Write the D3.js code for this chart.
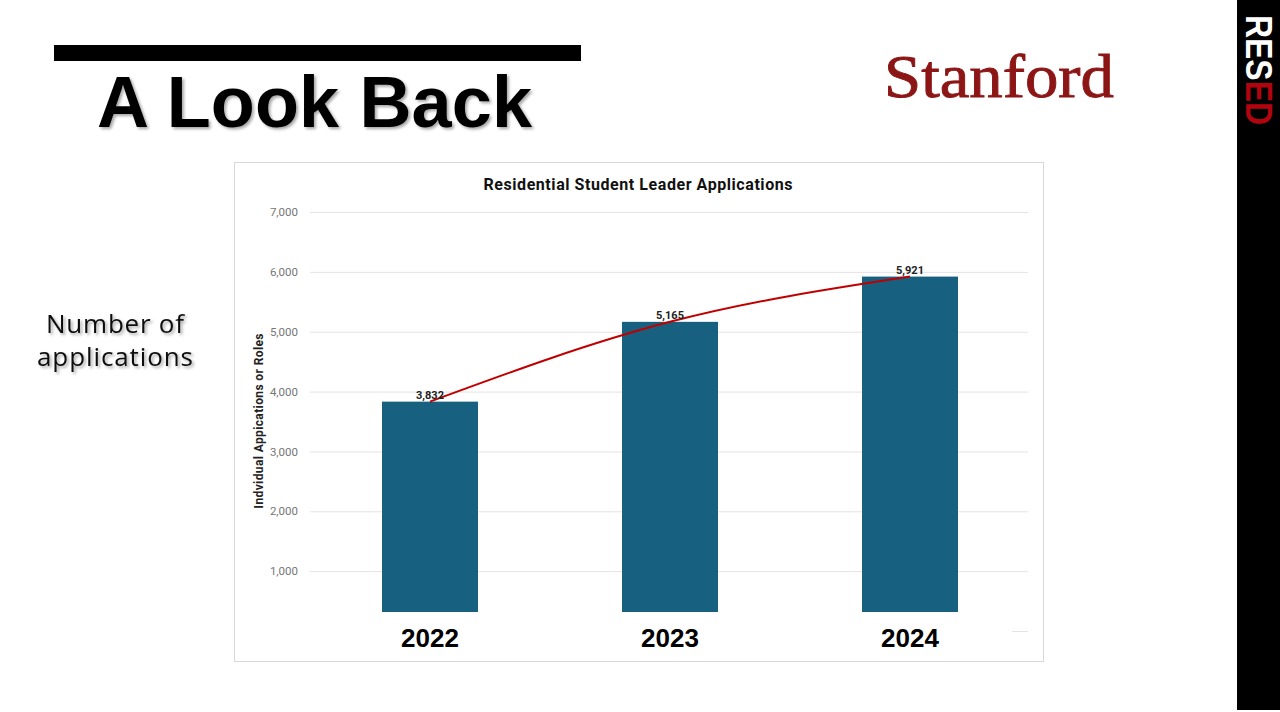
<!DOCTYPE html>
<html>
<head>
<meta charset="utf-8">
<script src="https://cdn.jsdelivr.net/npm/d3@7"></script>
<style>
  html, body { margin: 0; padding: 0; background: #fff; }
  svg { display: block; }
</style>
</head>
<body>
<div class="slide"></div>
<script>
// data
let years = ["2022", "2023", "2024"];
let applications = [3832, 5165, 5921];
let yTicks = [0, 1000, 2000, 3000, 4000, 5000, 6000, 7000];

let svg = d3.select(".slide")
  .append("svg")
    .attr("width", 1280)
    .attr("height", 712);

let defs = svg.append("defs");
let shadow = defs.append("filter")
    .attr("id", "shadow")
    .attr("x", "-10%").attr("y", "-10%")
    .attr("width", "120%").attr("height", "130%");
shadow.append("feDropShadow")
    .attr("dx", 2).attr("dy", 2)
    .attr("stdDeviation", 1.5)
    .attr("flood-color", "#000")
    .attr("flood-opacity", 0.35);

// header
svg.append("rect")
    .attr("x", 54).attr("y", 45)
    .attr("width", 527).attr("height", 16)
    .attr("fill", "#000");

svg.append("text")
    .attr("x", 97).attr("y", 127)
    .attr("font-family", "'Liberation Sans', Arial, sans-serif")
    .attr("font-weight", "bold")
    .attr("font-size", 72)
    .attr("textLength", 435)
    .attr("filter", "url(#shadow)")
    .text("A Look Back");

svg.append("text")
    .attr("x", 884).attr("y", 97)
    .attr("font-family", "'Liberation Serif', 'DejaVu Serif', serif")
    .attr("font-size", 62)
    .attr("fill", "#8c1515")
    .attr("stroke", "#8c1515")
    .attr("stroke-width", 0.9)
    .attr("textLength", 230)
    .attr("lengthAdjust", "spacingAndGlyphs")
    .text("Stanford");

// right band
svg.append("rect")
    .attr("x", 1237).attr("y", 0)
    .attr("width", 43).attr("height", 710)
    .attr("fill", "#000");

let band = svg.append("text")
    .attr("transform", "translate(1246,15) rotate(90)")
    .attr("font-family", "'Liberation Sans', Arial, sans-serif")
    .attr("font-weight", "bold")
    .attr("font-size", 36)
    .attr("textLength", 110)
    .attr("lengthAdjust", "spacingAndGlyphs");
band.append("tspan").attr("fill", "#fff").text("RES");
band.append("tspan").attr("fill", "#b1040e").text("ED");

// left label
let side = svg.append("text")
    .attr("font-family", "'Open Sans', 'Noto Sans', sans-serif")
    .attr("font-size", 26)
    .attr("fill", "#111")
    .attr("text-anchor", "middle")
    .attr("filter", "url(#shadow)");
side.append("tspan").attr("x", 115).attr("y", 333)
    .attr("textLength", 138).text("Number of");
side.append("tspan").attr("x", 115).attr("y", 366)
    .attr("textLength", 156).text("applications");

// chart box
svg.append("rect")
    .attr("x", 234.5).attr("y", 162.5)
    .attr("width", 809).attr("height", 499)
    .attr("fill", "#fff")
    .attr("stroke", "#d9d9d9");

svg.append("text")
    .attr("x", 638).attr("y", 190)
    .attr("text-anchor", "middle")
    .attr("font-family", "Roboto, 'Liberation Sans', sans-serif")
    .attr("font-weight", "bold")
    .attr("font-size", 16)
    .attr("fill", "#111")
    .attr("textLength", 309)
    .text("Residential Student Leader Applications");

let x = d3.scaleBand()
    .domain(years)
    .range([310, 1030])
    .paddingInner(0.6)
    .paddingOuter(0.3);

let y = d3.scaleLinear()
    .domain([0, 7000])
    .range([631, 212]);

let yAxis = svg.append("g")
    .attr("transform", "translate(310,0)")
    .call(d3.axisLeft(y)
      .tickValues(yTicks)
      .tickSize(-718)
      .tickPadding(12)
      .tickFormat(d3.format(",")));
yAxis.select(".domain").remove();
yAxis.selectAll(".tick line").attr("stroke", "#e3e3e3");
yAxis.selectAll(".tick text")
    .attr("fill", "#767676")
    .attr("font-size", 11.5)
    .attr("font-family", "Roboto, 'Liberation Sans', sans-serif");

svg.append("text")
    .attr("transform", "translate(263,421) rotate(-90)")
    .attr("text-anchor", "middle")
    .attr("font-family", "Roboto, 'Liberation Sans', sans-serif")
    .attr("font-weight", "bold")
    .attr("font-size", 12)
    .attr("fill", "#222")
    .attr("textLength", 175)
    .text("Indvidual Appications or Roles");

svg.selectAll(".bar").data(applications).enter()
  .append("rect")
    .attr("class", "bar")
    .attr("x", (d, i) => x(years[i]))
    .attr("y", d => y(d))
    .attr("width", x.bandwidth())
    .attr("height", d => y(0) - y(d))
    .attr("fill", "#17607f");

// trend line through the bar tops
let trend = d3.line()
    .x((d, i) => x(years[i]) + x.bandwidth() / 2)
    .y(d => y(d))
    .curve(d3.curveNatural);

svg.append("path")
    .datum(applications)
    .attr("d", trend)
    .attr("fill", "none")
    .attr("stroke", "#c00000")
    .attr("stroke-width", 2);

svg.selectAll(".value").data(applications).enter()
  .append("text")
    .attr("class", "value")
    .attr("x", (d, i) => x(years[i]) + x.bandwidth() / 2)
    .attr("y", d => y(d) - 3)
    .attr("text-anchor", "middle")
    .attr("font-family", "Roboto, 'Liberation Sans', sans-serif")
    .attr("font-weight", "bold")
    .attr("font-size", 11)
    .attr("fill", "#222")
    .text(d3.format(","));

// white panel with year labels laid over the axis foot
svg.append("rect")
    .attr("x", 240).attr("y", 612)
    .attr("width", 772).attr("height", 46)
    .attr("fill", "#fff");

svg.selectAll(".year").data(years).enter()
  .append("text")
    .attr("class", "year")
    .attr("x", d => x(d) + x.bandwidth() / 2)
    .attr("y", 647)
    .attr("text-anchor", "middle")
    .attr("font-family", "'Liberation Sans', Arial, sans-serif")
    .attr("font-weight", "bold")
    .attr("font-size", 26)
    .attr("fill", "#000")
    .text(d => d);
</script>
</body>
</html>
